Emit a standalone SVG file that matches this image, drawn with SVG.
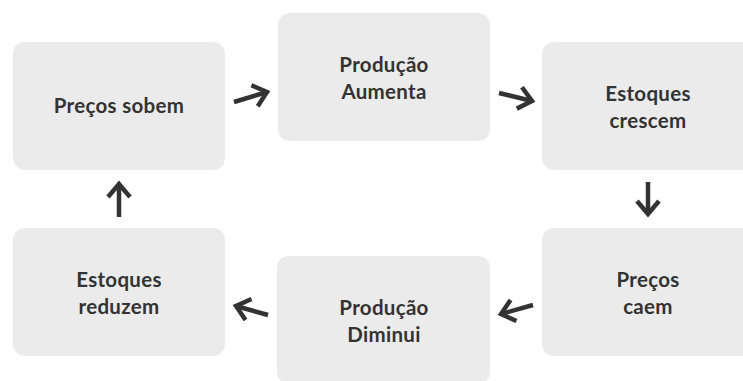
<svg xmlns="http://www.w3.org/2000/svg" width="743" height="381" viewBox="0 0 743 381">
<defs>
<marker id="head" markerUnits="userSpaceOnUse" viewBox="-20 -15 24 30" refX="0" refY="0" markerWidth="24" markerHeight="30" orient="auto">
<path d="M-13,-11 L0,0 L-13,11" fill="none" stroke="#333" stroke-width="4.5" stroke-linejoin="miter"/>
</marker>
</defs>
<style>
.box{fill:#ebebeb;}
.lbl{font-family:Lato,"Noto Sans",sans-serif;font-weight:bold;font-size:20.5px;letter-spacing:0.3px;fill:#333;text-anchor:middle;}
.arr{fill:none;stroke:#333;stroke-width:4.5;marker-end:url(#head);}
</style>
<rect width="743" height="381" fill="#fff"/>
<g id="n1"><rect class="box" x="13" y="42" width="212" height="128" rx="12"/><text class="lbl" x="119" y="113">Preços sobem</text></g>
<g id="n2"><rect class="box" x="278" y="13" width="212" height="128" rx="12"/><text class="lbl" x="384" y="72">Produção</text><text class="lbl" x="384" y="99">Aumenta</text></g>
<g id="n3"><rect class="box" x="542" y="42" width="212" height="128" rx="12"/><text class="lbl" x="648" y="101">Estoques</text><text class="lbl" x="648" y="128">crescem</text></g>
<g id="n4"><rect class="box" x="542" y="228" width="212" height="128" rx="12"/><text class="lbl" x="648" y="287">Preços</text><text class="lbl" x="648" y="314">caem</text></g>
<g id="n5"><rect class="box" x="277" y="256" width="213" height="128" rx="12"/><text class="lbl" x="384" y="315">Produção</text><text class="lbl" x="384" y="342">Diminui</text></g>
<g id="n6"><rect class="box" x="13" y="228" width="212" height="128" rx="12"/><text class="lbl" x="119" y="287">Estoques</text><text class="lbl" x="119" y="314">reduzem</text></g>
<g id="connectors">
<path class="arr" d="M234,102 L267,92"/>
<path class="arr" d="M499,93 L532,101"/>
<path class="arr" d="M648,182 L648,214"/>
<path class="arr" d="M533,305 L501,314"/>
<path class="arr" d="M268,315 L236,306"/>
<path class="arr" d="M119,217 L119,184"/>
</g>
</svg>
